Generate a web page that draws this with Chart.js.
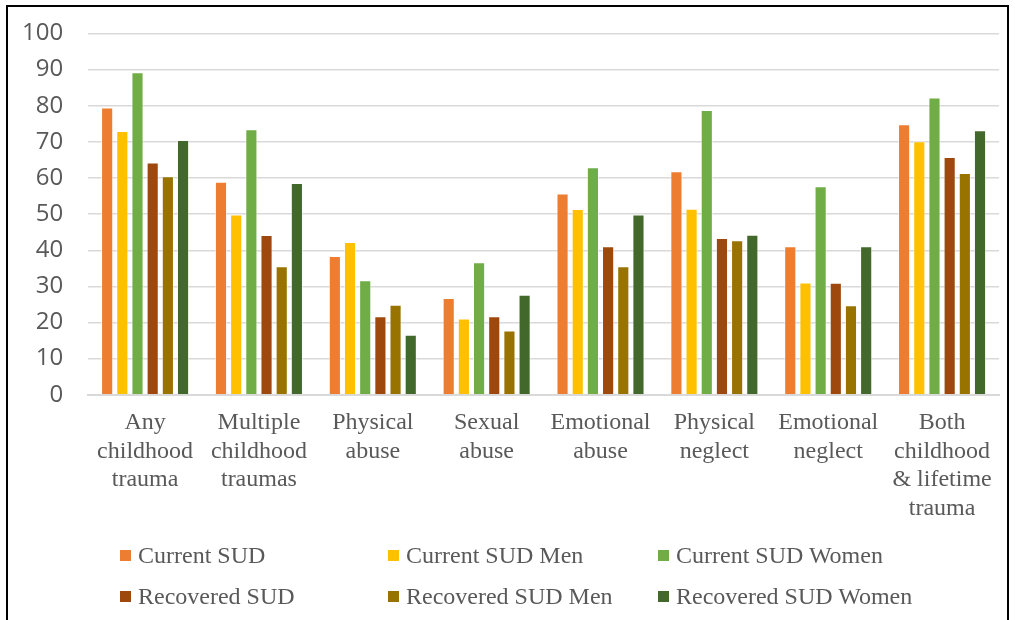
<!DOCTYPE html>
<html>
<head>
<meta charset="utf-8">
<script src="https://cdn.jsdelivr.net/npm/chart.js@4.4.1/dist/chart.umd.min.js"></script>
<style>
  body { margin: 0; background: #fff; width: 1015px; height: 620px; overflow: hidden; position: relative; }
  #frame { position: absolute; left: 6px; top: 5px; width: 999px; height: 640px;
           border: 2px solid #000; }
  #grafico { position: absolute; left: -4px; top: -3px; }
  #legenda { position: absolute; left: 120px; top: 541px; display: grid;
             grid-template-columns: 268px 270px 270px; row-gap: 12px;
             font-family: "Liberation Serif", "Times New Roman", serif; font-size: 24px; color: #595959; }
  .item { display: flex; align-items: center; height: 29px; white-space: nowrap; }
  .caixa { width: 11px; height: 11px; margin-right: 7px; flex: none; }
</style>
</head>
<body>
<div id="frame"></div>
<canvas id="grafico" width="1019" height="548"></canvas>
<div id="legenda"></div>
<script>
const categorias = [
  ['Any', 'childhood', 'trauma'],
  ['Multiple', 'childhood', 'traumas'],
  ['Physical', 'abuse'],
  ['Sexual', 'abuse'],
  ['Emotional', 'abuse'],
  ['Physical', 'neglect'],
  ['Emotional', 'neglect'],
  ['Both', 'childhood', '& lifetime', 'trauma']
];

const nomes = ['Current SUD', 'Current SUD Men', 'Current SUD Women',
               'Recovered SUD', 'Recovered SUD Men', 'Recovered SUD Women'];

const currentSUD        = [79.5, 59.0, 38.4, 26.8, 55.7, 61.9, 41.1, 74.9];
const currentSUDMen     = [73.0, 49.9, 42.3, 21.1, 51.4, 51.5, 31.1, 70.2];
const currentSUDWomen   = [89.3, 73.5, 31.7, 36.7, 63.0, 78.8, 57.7, 82.3];
const recoveredSUD      = [64.3, 44.2, 21.7, 21.7, 41.1, 43.4, 31.0, 65.8];
const recoveredSUDMen   = [60.5, 35.6, 24.9, 17.8, 35.6, 42.8, 24.8, 61.4];
const recoveredSUDWomen = [70.5, 58.6, 16.6, 27.7, 49.9, 44.3, 41.1, 73.2];

const cores = ['#ED7D31', '#FFC000', '#70AD47', '#9E480E', '#997300', '#43682B'];

const valores = [currentSUD, currentSUDMen, currentSUDWomen,
                 recoveredSUD, recoveredSUDMen, recoveredSUDWomen];

let datasets = [];
for (let i = 0; i < nomes.length; i++) {
    datasets.push({
        label: nomes[i],
        data: valores[i],
        backgroundColor: cores[i],
        borderColor: 'rgba(255,255,255,0.55)',
        borderWidth: 1,
        categoryPercentage: 0.8,
        barPercentage: 0.8
    });
}

const config = {
    type: 'bar',
    data: { labels: categorias, datasets: datasets },
    options: {
        responsive: false,
        animation: false,
        layout: { padding: { top: 20, left: 1, right: 16, bottom: 8 } },
        plugins: {
            legend: { display: false },
            tooltip: { enabled: false }
        },
        scales: {
            x: {
                grid: { display: false, drawTicks: false },
                border: { display: true, color: '#d9d9d9', width: 2 },
                ticks: {
                    color: '#595959',
                    padding: 14,
                    maxRotation: 0,
                    autoSkip: false,
                    font: { family: '"Liberation Serif", "Times New Roman", serif', size: 24, lineHeight: 1.19 }
                }
            },
            y: {
                min: 0,
                max: 100,
                grid: { color: '#d9d9d9', lineWidth: 1.5, drawTicks: false },
                border: { display: false },
                ticks: {
                    stepSize: 10,
                    color: '#595959',
                    padding: 25,
                    font: { family: '"Open Sans", sans-serif', size: 24, lineHeight: 0.96 }
                }
            }
        }
    }
};

const myChart = new Chart(document.getElementById('grafico'), config);

// legenda em grade, 3 colunas
let legenda = document.getElementById('legenda');
myChart.data.datasets.forEach(function (ds) {
    let item = document.createElement('div');
    item.className = 'item';
    let caixa = document.createElement('span');
    caixa.className = 'caixa';
    caixa.style.backgroundColor = ds.backgroundColor;
    item.appendChild(caixa);
    item.appendChild(document.createTextNode(ds.label));
    legenda.appendChild(item);
});
</script>
</body>
</html>
